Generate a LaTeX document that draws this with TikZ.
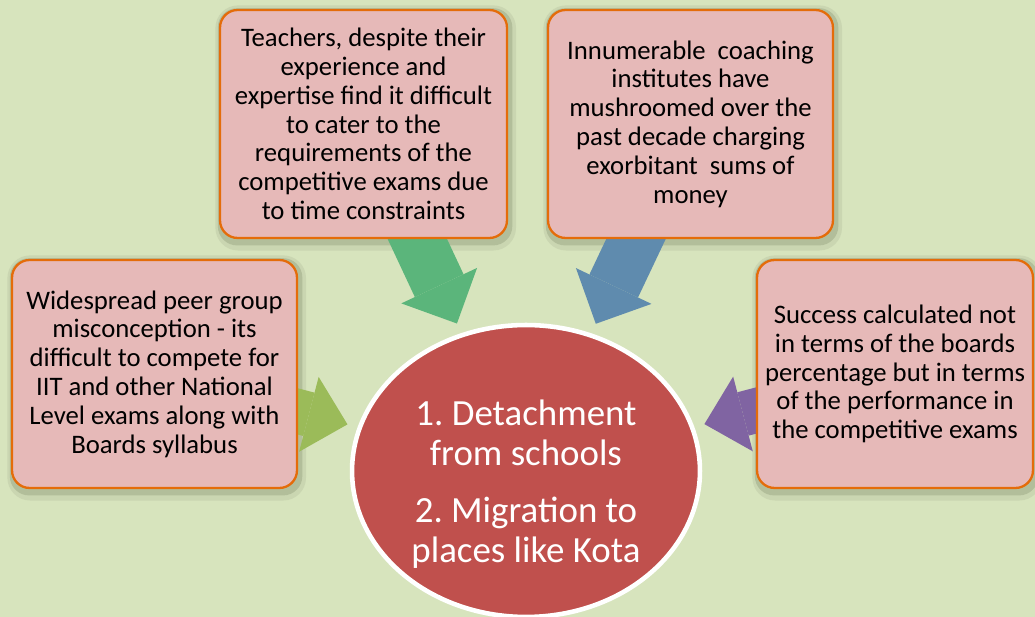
\documentclass[tikz,border=0pt]{standalone}
\usepackage{fontspec}
\setmainfont{Carlito}
\frenchspacing
\usetikzlibrary{shapes.geometric, arrows.meta}

\definecolor{paper}{RGB}{215,228,189}
\definecolor{causefill}{RGB}{230,185,184}
\definecolor{causeline}{RGB}{228,108,10}
\definecolor{glowin}{RGB}{178,190,154}
\definecolor{glowout}{RGB}{202,214,177}
\definecolor{corered}{RGB}{192,80,77}
\definecolor{pushgreen}{RGB}{91,181,123}
\definecolor{pushblue}{RGB}{95,139,174}
\definecolor{pushlime}{RGB}{155,187,89}
\definecolor{pushpurple}{RGB}{128,100,162}

\pgfdeclarelayer{glow}
\pgfdeclarelayer{flow}
\pgfsetlayers{glow,flow,main}

\begin{document}
\begin{tikzpicture}[x=0.02cm, y=-0.02cm]
    \tikzstyle{cause} = [rectangle, draw=causeline, line width=1.3pt, fill=causefill, rounded corners=10pt, minimum height=4.56cm, align=center, font=\fontsize{15.2}{16.4}\selectfont]
    \tikzstyle{core} = [ellipse, draw=white, line width=2.6pt, fill=corered, minimum width=6.96cm, minimum height=5.84cm]
    \tikzstyle{coretext} = [align=center, text=white, font=\fontsize{21}{22.7}\selectfont]
    \tikzstyle{push} = [line width=30.6pt, -{Triangle[length=23.8pt, width=47.6pt, line width=0pt]}, shorten >=6pt]
    \tikzstyle{sidepush} = [line width=25.5pt, -{Triangle[length=22.7pt, width=44pt, line width=0pt]}, shorten >=6pt]

    \useasboundingbox (0,0) rectangle (1035,617);

    \node [cause, minimum width=5.74cm] (t1) at (363.5,124) {Teachers, despite their\\experience and\\expertise find it difficult\\to cater to the\\requirements of the\\competitive exams due\\to time constraints};
    \node [cause, minimum width=5.70cm] (t2) at (690.5,124) {Innumerable~ coaching\\institutes have\\mushroomed over the\\past decade charging\\exorbitant~ sums of\\money};
    \node [cause, minimum width=5.70cm] (l1) at (154.5,374) {Widespread peer group\\misconception - its\\difficult to compete for\\IIT and other National\\Level exams along with\\Boards syllabus};
    \node [cause, minimum width=5.52cm] (r1) at (895,374) {Success calculated not\\in terms of the boards\\percentage but in terms\\of the performance in\\the competitive exams};

    \node [core] (core) at (526,471) {};
    \node [coretext] (outcome) at ([yshift=-7.4pt]core.center) {1. Detachment\\from schools\\[10pt]2. Migration to\\places like Kota};

    % paper and soft glow round the boxes
    \begin{pgfonlayer}{glow}
        \fill[paper] (0,0) rectangle (1035,617);
        \begin{scope}
            \clip (0,0) rectangle (1035,617);
            \foreach \b in {t1,t2,l1,r1} {
                \fill[glowout, rounded corners=13pt] ([shift={(-2pt,-6.5pt)}]\b.south west) rectangle ([shift={(4.5pt,2pt)}]\b.north east);
                \fill[glowin, rounded corners=11pt] ([shift={(-0.6pt,-3.6pt)}]\b.south west) rectangle ([shift={(2.4pt,0.4pt)}]\b.north east);
            }
        \end{scope}
    \end{pgfonlayer}

    \begin{pgfonlayer}{flow}
        \draw [push, pushgreen] (t1.center) -- (core);
        \draw [push, pushblue] (t2.center) -- (core);
        \draw [sidepush, pushlime] (l1.center) -- (core);
        \draw [sidepush, pushpurple] (r1.center) -- (core);
    \end{pgfonlayer}
\end{tikzpicture}
\end{document}
